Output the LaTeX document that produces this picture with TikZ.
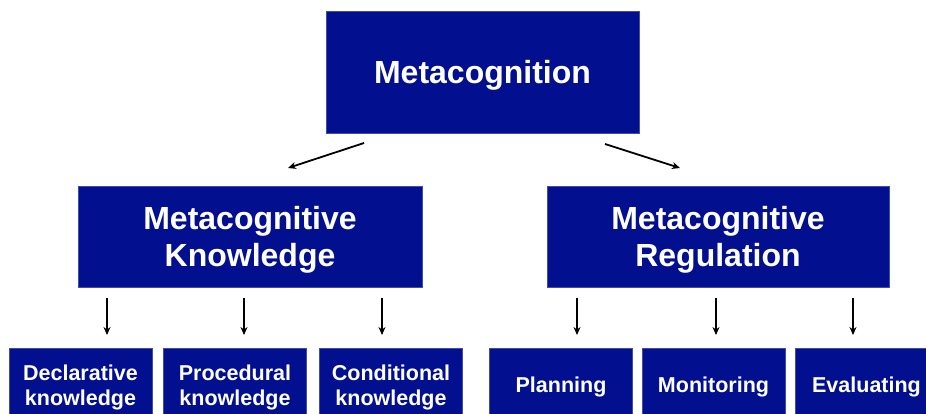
\documentclass[tikz,border=0pt]{standalone}
\usepackage{fontspec}
\usetikzlibrary{arrows.meta}
\setmainfont{Liberation Sans}
\definecolor{boxblue}{RGB}{2,16,143}
\begin{document}
\begin{tikzpicture}[x=1pt,y=-1pt,>={Stealth[length=8pt,width=7pt]},line width=1.8pt,
	box/.style={fill=boxblue,draw=boxblue!75!white,line width=0.6pt,text=white,align=center,inner sep=0pt,text depth=0pt},
	big/.style={box,font=\fontsize{32}{37}\selectfont\bfseries},
	small/.style={box,font=\fontsize{21.5}{25}\selectfont\bfseries,minimum width=143pt,minimum height=74pt}]
	\clip (0,0) rectangle (926,414);
	\node[big,minimum width=313pt,minimum height=122pt] (meta) at (482.5,72) {Metacognition};
	\node[big,minimum width=344pt,minimum height=101pt] (know) at (250,236.5) {Metacognitive\\Knowledge};
	\node[big,minimum width=342pt,minimum height=101pt] (reg) at (718,236.5) {Metacognitive\\Regulation};
	\node[small] (decl) at (80.5,385) {Declarative\\knowledge};
	\node[small] (proc) at (235,385) {Procedural\\knowledge};
	\node[small] (cond) at (391,385) {Conditional\\knowledge};
	\node[small] (plan) at (561,385) {Planning};
	\node[small] (moni) at (713.5,385) {Monitoring};
	\node[small] (eval) at (866.5,385) {Evaluating};
	\coordinate (la) at (364,143); \coordinate (lb) at (288,168);
	\coordinate (ra) at (605,144); \coordinate (rb) at (680,168);
	\draw[->] (la) -- (lb);
	\draw[->] (ra) -- (rb);
	\foreach \x [count=\i] in {107,244,382,577,716,853}{
		\coordinate (s\i) at (\x,298); \coordinate (e\i) at (\x,335);
		\draw[->] (s\i) -- (e\i);}
\end{tikzpicture}
\end{document}
